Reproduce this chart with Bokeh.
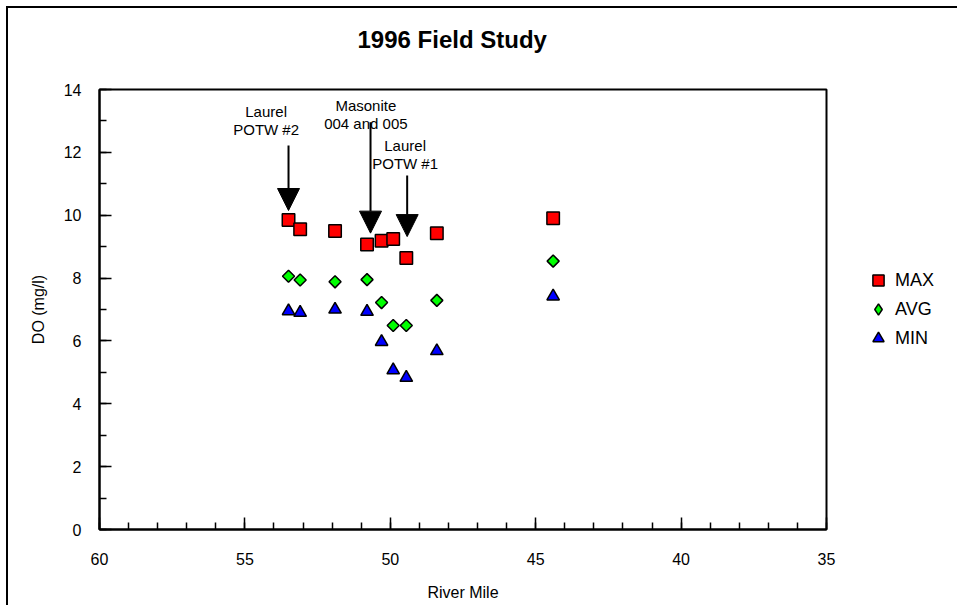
from bokeh.plotting import figure
from bokeh.models import (Range1d, SingleIntervalTicker, Legend, LegendItem,
                          Arrow, NormalHead, ColumnDataSource)
from bokeh.core.properties import value
from bokeh.embed import file_html
from bokeh.resources import INLINE
import math

# ---- data ----
river_mile = [53.5, 53.1, 51.9, 50.8, 50.3, 49.9, 49.45, 48.4, 44.4]
do_max = [9.85, 9.55, 9.50, 9.07, 9.19, 9.24, 8.64, 9.43, 9.90]
do_avg = [8.06, 7.94, 7.88, 7.95, 7.22, 6.49, 6.49, 7.29, 8.54]
do_min = [6.95, 6.90, 7.00, 6.93, 5.97, 5.07, 4.83, 5.68, 7.42]

x_ticks = [60, 55, 50, 45, 40, 35]
y_ticks = [0, 2, 4, 6, 8, 10, 12, 14]

# annotations: arrow x, arrow top, arrow tip, label lines and label position
ann_arrow_x = [53.5, 50.68, 49.42]
ann_arrow_top = [12.22, 12.96, 11.26]
ann_arrow_tip = [10.15, 9.43, 9.32]
ann_line1 = ["Laurel", "Masonite", "Laurel"]
ann_line2 = ["POTW #2", "004 and 005", "POTW #1"]
ann_text_x = [54.27, 50.84, 49.49]
ann_line1_y = [13.30, 13.49, 12.22]
ann_line2_y = [12.73, 12.91, 11.64]

FONT = "Liberation Sans"

p = figure(frame_width=727, frame_height=440, output_backend="svg",
           toolbar_location=None,
           x_range=Range1d(60, 35), y_range=Range1d(0, 14),
           min_border_left=91, min_border_right=123,
           min_border_top=81, min_border_bottom=76,
           title="1996 Field Study\n")
p.styles = {"margin": "6px 0px 0px 6px",
            "border-left": "2px solid black", "border-top": "2px solid black",
            "border-right": "none", "border-bottom": "none",
            "outline": "none", "box-shadow": "none",
            "clip-path": "inset(0px 4px 0px 0px)"}

p.title.text_font = FONT
p.title.text_font_size = "24px"
p.title.text_font_style = "bold"
p.title.text_color = "black"
p.title.align = "left"
p.title.offset = 258
p.title.standoff = 20

p.xgrid.visible = False
p.ygrid.visible = False
p.outline_line_color = "black"
p.outline_line_width = 2
p.outline_line_alpha = 1

p.xaxis.ticker = SingleIntervalTicker(interval=5, num_minor_ticks=5)
p.yaxis.ticker = SingleIntervalTicker(interval=2, num_minor_ticks=2)
for ax in (p.xaxis, p.yaxis):
    ax.axis_line_width = 2
    ax.axis_line_color = "black"
    ax.major_tick_in = 12
    ax.major_tick_out = 0
    ax.minor_tick_in = 7
    ax.minor_tick_out = 0
    ax.major_tick_line_width = 1.5
    ax.minor_tick_line_width = 1.5
    ax.major_tick_line_color = "black"
    ax.minor_tick_line_color = "black"
    ax.major_label_text_font = FONT
    ax.major_label_text_font_size = "16px"
    ax.major_label_text_color = "black"
    ax.axis_label_text_font = FONT
    ax.axis_label_text_font_size = "16px"
    ax.axis_label_text_font_style = "normal"
    ax.axis_label_text_color = "black"
p.xaxis.axis_label = "River Mile"
p.yaxis.axis_label = "DO (mg/l)"
p.xaxis.major_label_standoff = 23
p.yaxis.major_label_standoff = 18
p.xaxis.axis_label_standoff = 16
p.yaxis.axis_label_standoff = 14

src = ColumnDataSource(dict(x=river_mile, mx=do_max, av=do_avg, mn=do_min))

r_max = p.scatter("x", "mx", source=src, marker="square", size=12.5,
                  fill_color="#FF0000", line_color="black", line_width=1.5)
r_avg = p.scatter("x", "av", source=src, marker="square", size=8.5,
                  angle=math.pi / 4,
                  fill_color="#00FF00", line_color="black", line_width=1.5)
r_min = p.scatter("x", "mn", source=src, marker="triangle", size=12.5,
                  fill_color="#0000FF", line_color="black", line_width=1.5)
# diamond-shaped stand-in used only for the legend entry (legend ignores angle)
r_avg_leg = p.scatter("x", "av", source=src, marker="diamond", size=12,
                      fill_color="#00FF00", line_color="black", line_width=1.5,
                      visible=False)

# annotation arrows and labels
for i in range(len(ann_arrow_x)):
    p.add_layout(Arrow(end=NormalHead(size=22, fill_color="black",
                                      line_color="black", line_width=1),
                       x_start=ann_arrow_x[i], y_start=ann_arrow_top[i],
                       x_end=ann_arrow_x[i], y_end=ann_arrow_tip[i],
                       line_width=2, line_color="black"))

lab_src = ColumnDataSource(dict(x=ann_text_x + ann_text_x,
                                y=ann_line1_y + ann_line2_y,
                                t=ann_line1 + ann_line2))
p.text("x", "y", text="t", source=lab_src, text_font=value(FONT),
       text_font_size="15px", text_align="center", text_baseline="middle",
       text_color="black")

legend = Legend(items=[LegendItem(label="MAX", renderers=[r_max]),
                       LegendItem(label="AVG", renderers=[r_avg_leg]),
                       LegendItem(label="MIN", renderers=[r_min])],
                location=(37, 177), orientation="vertical", margin=0,
                glyph_width=30, glyph_height=28, spacing=1, padding=10,
                label_standoff=2, label_text_font=FONT,
                label_text_font_size="18px", label_text_color="black",
                border_line_color=None, background_fill_alpha=0,
                inactive_fill_alpha=0)
p.add_layout(legend, "right")

open("out.html", "w").write(file_html(p, INLINE))
